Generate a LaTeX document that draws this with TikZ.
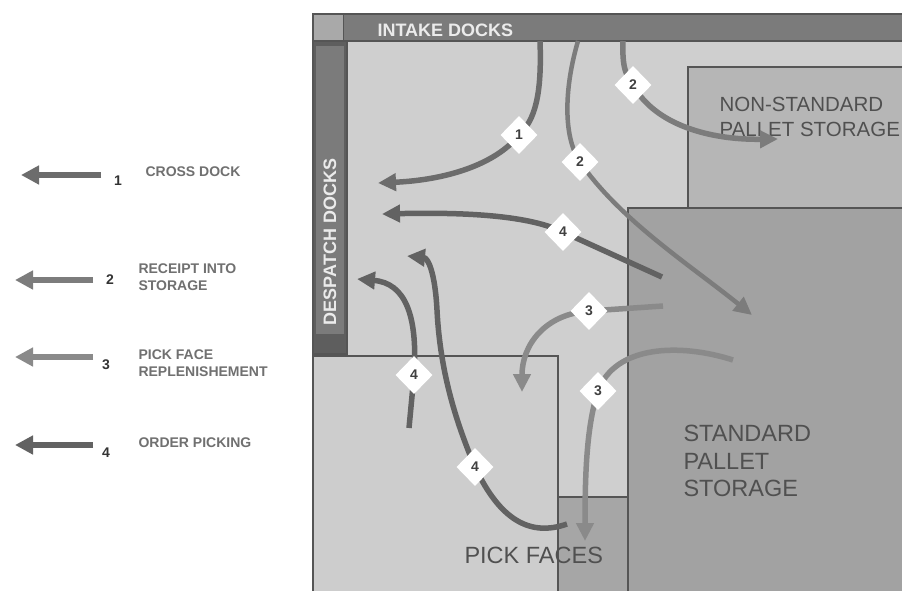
\documentclass[tikz,border=0pt]{standalone}
\usepackage{fontspec}
\setmainfont{Liberation Sans}
\usetikzlibrary{arrows.meta,shapes.geometric}
\definecolor{floorc}{HTML}{CFCFCF}
\definecolor{nonstdc}{HTML}{B6B6B6}
\definecolor{stdc}{HTML}{A2A2A2}
\definecolor{pickc}{HTML}{CDCDCD}
\definecolor{picksmc}{HTML}{A6A6A6}
\definecolor{dockc}{HTML}{7B7B7B}
\definecolor{dockdarkc}{HTML}{5E5E5E}
\definecolor{cornerc}{HTML}{A9A9A9}
\definecolor{edgec}{HTML}{555555}
\definecolor{fone}{HTML}{6C6C6C}
\definecolor{ftwo}{HTML}{7C7C7C}
\definecolor{fthree}{HTML}{8A8A8A}
\definecolor{ffour}{HTML}{626262}
\definecolor{legtext}{HTML}{707070}
\definecolor{areatext}{HTML}{505050}
\begin{document}
\begin{tikzpicture}[x=1pt,y=-1pt,
  edge/.style={draw=edgec,line width=1.2pt},
  flow/.style={line width=5.5pt,-{Triangle[length=18pt,width=17pt]}},
  flowone/.style={flow,draw=fone},
  flowtwo/.style={flow,draw=ftwo},
  flowthree/.style={flow,draw=fthree},
  flowfour/.style={flow,draw=ffour},
  legarrow/.style={line width=6.5pt,-{Triangle[length=18pt,width=18pt]}},
  dia/.style={shape=diamond,fill=white,inner sep=0pt,minimum width=37pt,minimum height=38pt,
    font=\bfseries\fontsize{14}{14}\selectfont,text=black!75},
  legnum/.style={font=\bfseries\fontsize{14}{14}\selectfont,text=black!80},
  leglab/.style={anchor=west,align=left,font=\bfseries\fontsize{14}{17}\selectfont,text=legtext},
  arealab/.style={anchor=west,align=left,text=areatext},
  docklab/.style={font=\bfseries\fontsize{18}{18}\selectfont,text=white!92!black}
]
\clip (0,0) rectangle (902,590);
\fill[white] (0,0) rectangle (902,590);

% floor and areas
\draw[edge,fill=floorc] (313,14) rectangle (910,600);
\draw[edge,fill=nonstdc] (688,67) rectangle (910,208);
\draw[edge,fill=stdc] (628,208) rectangle (910,600);
\draw[edge,fill=pickc] (313,356) rectangle (558,600);
\draw[edge,fill=picksmc] (558,497) rectangle (628,600);

% docks
\draw[edge,fill=dockc] (313,14) rectangle (910,41);
\fill[cornerc] (314,15) rectangle (343,40);
\draw[edgec,line width=1pt] (343,15) -- (343,41);
\draw[edge,fill=dockdarkc] (313,41) rectangle (347,354);
\fill[dockc] (316,46) rectangle (344,334);

\node[docklab,anchor=west] (intake) at (374,30) {INTAKE DOCKS};
\node[docklab,rotate=90] (despatch) at (330,242) {DESPATCH DOCKS};

% area labels
\node[arealab,font=\fontsize{20.5}{25}\selectfont] (nonstd) at (716,117) {NON-STANDARD\\PALLET STORAGE};
\node[arealab,font=\fontsize{23.5}{27.5}\selectfont] (std) at (680,461) {STANDARD\\PALLET\\STORAGE};
\node[arealab,font=\fontsize{23.5}{23.5}\selectfont] (pickfaces) at (461,555) {PICK FACES};

% flow arrow end points
\coordinate (a1s) at (540,41);
\coordinate (a1e) at (378,183);
\coordinate (a2as) at (623,41);
\coordinate (a2ae) at (778,139);
\coordinate (a2bs) at (578,41);
\coordinate (a2be) at (752,315);
\coordinate (a3as) at (663,306);
\coordinate (a3ae) at (522,392);
\coordinate (a3bs) at (733,360);
\coordinate (a3be) at (585,541);
\coordinate (a4as) at (662,277);
\coordinate (a4ae) at (382,214);
\coordinate (a4bs) at (409,428);
\coordinate (a4be) at (357,279);
\coordinate (a4cs) at (567,524);
\coordinate (a4ce) at (407,256);

% diamonds (positions)
\coordinate (p1) at (519,135);
\coordinate (p2a) at (633,85);
\coordinate (p2b) at (580,162);
\coordinate (p3a) at (589,311);
\coordinate (p3b) at (598,391);
\coordinate (p4a) at (563,232);
\coordinate (p4b) at (414,375);
\coordinate (p4c) at (475,467);

% flows
\draw[flowone] (a1s) .. controls (542,95) and (535,120) .. (p1) .. controls (495,165) and (445,180) .. (a1e);
\draw[flowtwo] (a2as) .. controls (622,68) and (626,75) .. (p2a) .. controls (655,125) and (710,140) .. (a2ae);
\draw[flowtwo,line width=4.5pt] (a2bs) .. controls (565,85) and (562,135) .. (p2b) .. controls (620,220) and (690,265) .. (a2be);
\draw[flowthree] (a3as) -- (p3a) .. controls (545,314) and (522,345) .. (a3ae);
\draw[flowthree] (a3bs) .. controls (680,343) and (615,345) .. (p3b) .. controls (587,425) and (585,470) .. (a3be);
\draw[flowfour] (a4as) -- (p4a) .. controls (530,216) and (470,212) .. (a4ae);
\draw[flowfour] (a4bs) -- (p4b) .. controls (418,315) and (405,283) .. (a4be);
\draw[flowfour] (a4cs) .. controls (530,537) and (500,520) .. (p4c) .. controls (455,420) and (440,370) .. (437,310) .. controls (435,272) and (428,258) .. (a4ce);

\node[dia] (d1) at (p1) {1};
\node[dia] (d2a) at (p2a) {2};
\node[dia] (d2b) at (p2b) {2};
\node[dia] (d3a) at (p3a) {3};
\node[dia] (d3b) at (p3b) {3};
\node[dia] (d4a) at (p4a) {4};
\node[dia] (d4b) at (p4b) {4};
\node[dia] (d4c) at (p4c) {4};

% legend
\coordinate (l1s) at (101,175);
\coordinate (l1e) at (21,175);
\coordinate (l2s) at (93,280);
\coordinate (l2e) at (15,280);
\coordinate (l3s) at (93,357);
\coordinate (l3e) at (15,357);
\coordinate (l4s) at (93,445);
\coordinate (l4e) at (15,445);
\draw[legarrow,draw=fone] (l1s) -- (l1e);
\draw[legarrow,draw=ftwo] (l2s) -- (l2e);
\draw[legarrow,draw=fthree] (l3s) -- (l3e);
\draw[legarrow,draw=ffour] (l4s) -- (l4e);
\node[legnum] (n1) at (118,181) {1};
\node[legnum] (n2) at (110,280) {2};
\node[legnum] (n3) at (106,365) {3};
\node[legnum] (n4) at (106,453) {4};
\node[leglab] (t1) at (142,172) {CROSS DOCK};
\node[leglab] (t2) at (135,277) {RECEIPT INTO\\STORAGE};
\node[leglab] (t3) at (135,363) {PICK FACE\\REPLENISHEMENT};
\node[leglab] (t4) at (135,443) {ORDER PICKING};
\end{tikzpicture}
\end{document}
